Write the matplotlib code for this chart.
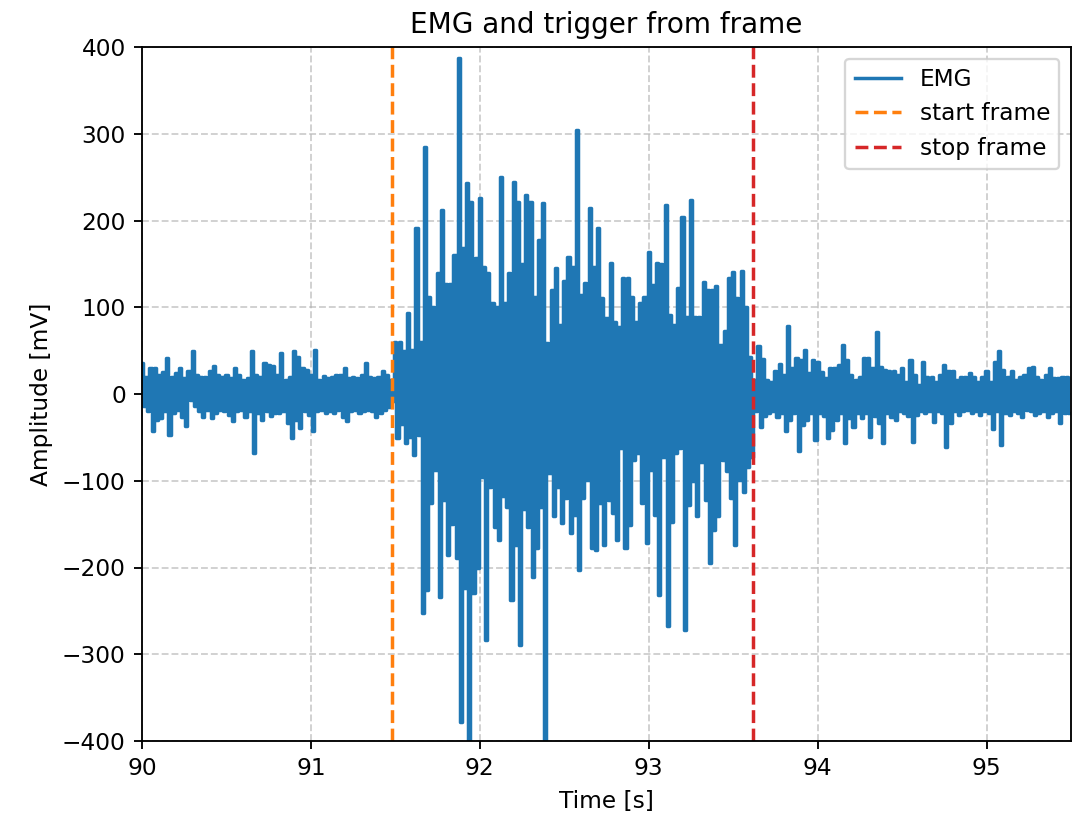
import numpy as np
import matplotlib
matplotlib.use("Agg")
import matplotlib.pyplot as plt

# Sampling of the read-off envelope (one upper and one lower extreme per step)
t_start = 90.0
step = 0.025  # s

# Upper extremes of the EMG trace (mV)
emg_top = [
    # quiet before start (90.0 - 91.48 s)
    36, 20, 30, 30, 22, 25, 41, 20, 24, 30, 18, 26, 50, 22, 20, 20, 26, 32, 22, 20,
    22, 18, 30, 22, 16, 18, 49, 22, 20, 36, 34, 32, 22, 47, 16, 20, 49, 43, 30, 28,
    22, 51, 16, 21, 18, 20, 22, 22, 30, 18, 20, 18, 22, 36, 20, 18, 20, 26, 22, 16,
    # active burst
    60, 60, 50, 93, 51, 191, 60, 285, 112, 100, 140, 212, 127, 127, 160, 387, 168, 243, 221, 157,
    226, 146, 139, 105, 100, 250, 105, 139, 244, 221, 150, 229, 221, 112, 178, 220, 59, 120, 145, 80,
    130, 158, 146, 304, 114, 128, 214, 146, 191, 111, 88, 151, 83, 77, 134, 134, 112, 83, 105, 112,
    164, 126, 151, 150, 218, 91, 80, 122, 204, 89, 224, 89, 89, 129, 120, 120, 124, 56, 73, 134,
    141, 111, 142, 100, 43,
    # quiet after stop
    16, 55, 40, 16, 14, 26, 35, 22, 78, 30, 41, 39, 51, 24, 39, 37, 25, 18, 30, 30,
    33, 56, 39, 22, 16, 20, 41, 41, 30, 72, 31, 28, 26, 26, 22, 30, 14, 39, 22, 10,
    37, 20, 20, 14, 22, 33, 26, 26, 16, 20, 20, 24, 20, 14, 20, 26, 14, 37, 49, 28,
    20, 26, 16, 20, 22, 30, 31, 20, 16, 22, 30, 18, 18, 20, 20,
]

# Lower extremes of the EMG trace (mV)
emg_bottom = [
    -14, -20, -43, -30, -28, -20, -47, -22, -18, -26, -37, -7, -14, -20, -26, -18, -28, -22, -18, -20,
    -24, -31, -20, -18, -26, -20, -68, -22, -30, -20, -25, -22, -22, -20, -33, -51, -30, -39, -20, -24,
    -43, -20, -18, -22, -20, -22, -18, -26, -31, -20, -18, -22, -20, -18, -20, -26, -22, -18, -15, -8,
    -51, -35, -57, -50, -70, -47, -253, -226, -126, -88, -234, -122, -186, -150, -189, -378, -224, -420, -229, -200,
    -96, -284, -107, -153, -168, -118, -130, -238, -174, -289, -132, -153, -211, -178, -130, -420, -91, -141, -107, -149,
    -120, -160, -140, -203, -120, -99, -178, -180, -126, -174, -122, -137, -168, -62, -178, -151, -76, -68, -126, -172,
    -88, -139, -232, -73, -268, -147, -68, -62, -272, -128, -100, -141, -78, -122, -195, -157, -141, -76, -89, -120,
    -174, -99, -113, -84, -73,
    -20, -38, -25, -22, -20, -26, -22, -43, -30, -22, -66, -36, -30, -22, -53, -22, -25, -51, -41, -30,
    -22, -57, -28, -38, -22, -28, -22, -49, -25, -34, -57, -22, -26, -30, -20, -22, -25, -55, -24, -20,
    -22, -20, -32, -20, -22, -61, -34, -20, -24, -20, -18, -22, -20, -24, -20, -22, -40, -20, -59, -22,
    -24, -20, -22, -26, -18, -20, -24, -22, -20, -26, -22, -20, -34, -22, -22,
]

start_frame = 91.482  # s
stop_frame = 93.615   # s

x_ticks = [90, 91, 92, 93, 94, 95]
y_ticks = [-400, -300, -200, -100, 0, 100, 200, 300, 400]

top = np.array(emg_top, dtype=float)
bot = np.array(emg_bottom, dtype=float)
n = len(top)
t_top = t_start + np.arange(n) * step
t_bot = t_top + step / 2
t = np.column_stack([t_top, t_bot]).ravel()
emg = np.column_stack([top, bot]).ravel()

dpi = 167
fig = plt.figure(figsize=(1073 / dpi, 825 / dpi), dpi=dpi)
ax = fig.add_axes([142 / 1073, 1 - 741 / 825, (1071 - 142) / 1073, (741 - 47) / 825])

ax.plot(t, emg, color="C0", lw=1.5, drawstyle="steps-mid", label="EMG")
ax.axvline(start_frame, color="C1", ls="--", lw=1.5, label="start frame")
ax.axvline(stop_frame, color="C3", ls="--", lw=1.5, label="stop frame")

ax.set_xlim(90, 95.5)
ax.set_ylim(-400, 400)
ax.set_xticks(x_ticks)
ax.set_yticks(y_ticks)
ax.grid(True, linestyle="--", alpha=0.6)
ax.set_xlabel("Time [s]")
ax.set_ylabel("Amplitude [mV]")
ax.set_title("EMG and trigger from frame")
ax.legend(loc="upper right")

fig.savefig("out.png", dpi=dpi)
